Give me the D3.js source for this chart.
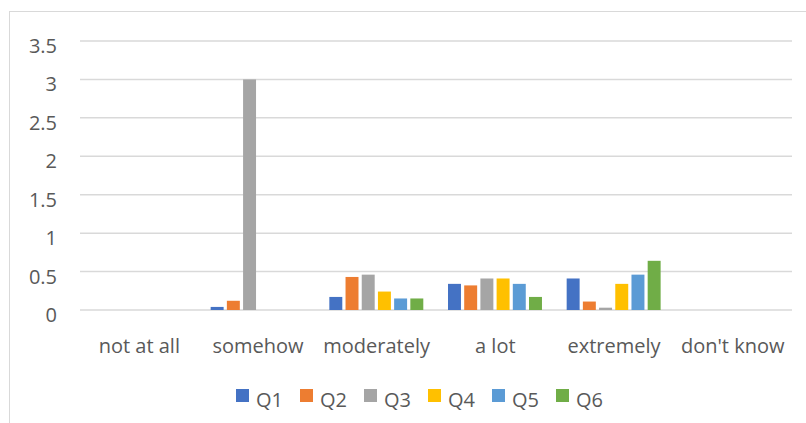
<!DOCTYPE html>
<html>
<head>
<meta charset="utf-8">
<script src="https://cdn.jsdelivr.net/npm/d3@7"></script>
<style>
    body { margin: 0; background: #fff; }
    text { font-family: "Open Sans", Lato, sans-serif; fill: #595959; font-size: 20px; }
    .grid line { stroke: #d9d9d9; stroke-width: 1.5; }
</style>
</head>
<body>
<script>
// categories and series
const categories = ["not at all", "somehow", "moderately", "a lot", "extremely", "don't know"];
const seriesNames = ["Q1", "Q2", "Q3", "Q4", "Q5", "Q6"];
const colors = ["#4472c4", "#ed7d31", "#a5a5a5", "#ffc000", "#5b9bd5", "#70ad47"];
const q1 = [0, 0.04, 0.17, 0.34, 0.41, 0];
const q2 = [0, 0.12, 0.43, 0.32, 0.11, 0];
const q3 = [0, 3.0, 0.46, 0.41, 0.03, 0];
const q4 = [0, 0, 0.24, 0.41, 0.34, 0];
const q5 = [0, 0, 0.15, 0.34, 0.46, 0];
const q6 = [0, 0, 0.15, 0.17, 0.64, 0];
const yTicks = [0, 0.5, 1, 1.5, 2, 2.5, 3, 3.5];

const seriesValues = [q1, q2, q3, q4, q5, q6];
const data = categories.map((c, i) => ({
    cat: c,
    vals: seriesNames.map((s, j) => ({key: s, value: seriesValues[j][i], color: colors[j]}))
}));

const W = 806, H = 423;
const plot = {left: 80, right: 792, top: 41, bottom: 310};

const svg = d3.select("body").append("svg")
    .attr("width", W).attr("height", H);

// chart border (runs off the right and bottom edges)
svg.append("rect")
    .attr("x", 9.5).attr("y", 11.5)
    .attr("width", W).attr("height", H)
    .attr("fill", "none")
    .attr("stroke", "#d9d9d9");

const x0 = d3.scaleBand().domain(categories).range([plot.left, plot.right]);
const x1 = d3.scaleBand().domain(seriesNames)
    .range([12, x0.bandwidth() - 12.7]).paddingInner(0.2);
const y = d3.scaleLinear().domain([0, 3.5]).range([plot.bottom, plot.top]);

// gridlines
svg.append("g").classed("grid", true)
    .selectAll("line").data(yTicks).enter()
    .append("line")
    .attr("x1", plot.left).attr("x2", plot.right)
    .attr("y1", d => y(d)).attr("y2", d => y(d));

// y tick labels
svg.append("g").selectAll("text").data(yTicks).enter()
    .append("text")
    .attr("x", 57).attr("y", d => y(d))
    .attr("dy", 12)
    .attr("text-anchor", "end")
    .text(d => d);

// bars
svg.append("g").selectAll("g").data(data).enter()
    .append("g")
    .attr("transform", d => "translate(" + x0(d.cat) + ",0)")
    .selectAll("rect").data(d => d.vals).enter()
    .append("rect")
    .attr("x", d => x1(d.key))
    .attr("width", x1.bandwidth())
    .attr("y", d => y(d.value))
    .attr("height", d => y(0) - y(d.value))
    .attr("fill", d => d.color);

// x labels
svg.append("g").selectAll("text").data(categories).enter()
    .append("text")
    .attr("x", d => x0(d) + x0.bandwidth() / 2)
    .attr("y", 353)
    .attr("text-anchor", "middle")
    .text(d => d);

// legend
const legend = svg.append("g").selectAll("g").data(seriesNames).enter()
    .append("g")
    .attr("transform", (d, i) => "translate(" + (236 + i * 64) + ",389)");
legend.append("rect")
    .attr("width", 13).attr("height", 13)
    .attr("fill", (d, i) => colors[i]);
legend.append("text")
    .attr("x", 20).attr("y", 18)
    .text(d => d);
</script>
</body>
</html>
